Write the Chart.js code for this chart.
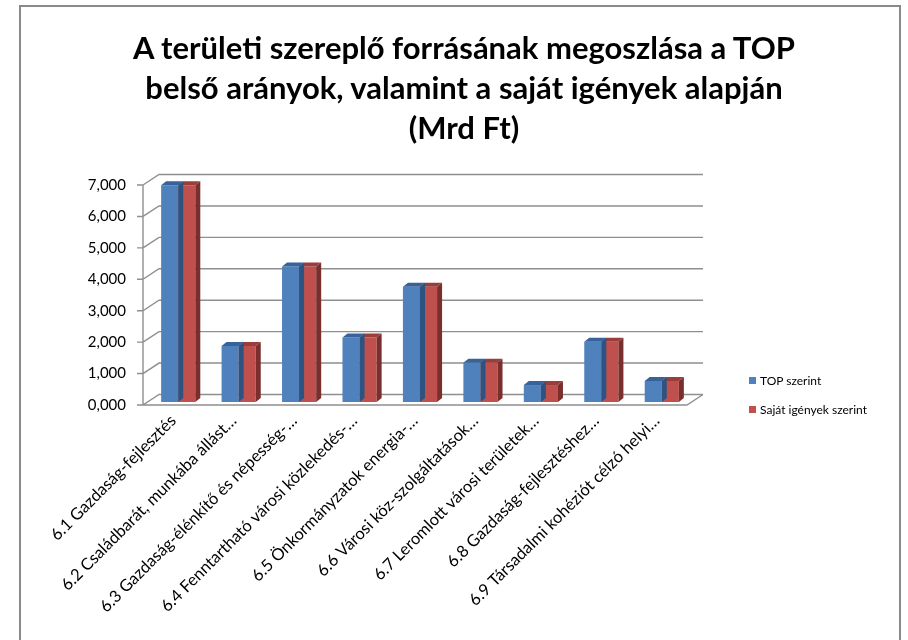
<!DOCTYPE html>
<html><head><meta charset="utf-8">
<script src="https://cdn.jsdelivr.net/npm/chart.js@4.4.1/dist/chart.umd.min.js"></script>
<style>
html,body{margin:0;padding:0;background:#fff;}
#wrap{position:relative;width:908px;height:640px;overflow:hidden;}
#frame{position:absolute;left:19px;top:5px;width:882px;height:700px;border:2px solid #8a8a8a;box-sizing:border-box;}
canvas{position:absolute;left:0;top:0;}
#title{position:absolute;left:20px;width:888px;top:27px;text-align:center;font-family:Lato,"Open Sans",sans-serif;font-weight:bold;font-size:31px;line-height:40px;color:#000;}
#legend{position:absolute;left:749px;top:372px;font-family:Lato,"Open Sans",sans-serif;font-size:12px;color:#000;}
#legend div{height:29px;line-height:18px;white-space:nowrap;}
#legend span{display:inline-block;width:7px;height:7px;margin-right:4px;vertical-align:1px;}
</style></head>
<body>
<div id="wrap">
<div id="frame"></div>
<canvas id="c" width="908" height="640"></canvas>
<div id="title"></div>
<div id="legend"></div>
</div>
<script>
const titleLines = ["A területi szereplő forrásának megoszlása a TOP", "belső arányok, valamint a saját igények alapján", "(Mrd Ft)"];
const categories = [
  "6.1 Gazdaság-fejlesztés",
  "6.2 Családbarát, munkába állást…",
  "6.3 Gazdaság-élénkítő és népesség-…",
  "6.4 Fenntartható városi közlekedés-…",
  "6.5 Önkormányzatok energia-…",
  "6.6 Városi köz-szolgáltatások…",
  "6.7 Leromlott városi területek…",
  "6.8 Gazdaság-fejlesztéshez…",
  "6.9 Társadalmi kohéziót célzó helyi…"
];
const seriesNames = ["TOP szerint", "Saját igények szerint"];
const topValues = [6.90, 1.78, 4.31, 2.05, 3.67, 1.25, 0.54, 1.92, 0.67];
const sajatValues = [6.90, 1.78, 4.31, 2.05, 3.67, 1.25, 0.54, 1.92, 0.67];
const yTickLabels = ["0,000","1,000","2,000","3,000","4,000","5,000","6,000","7,000"];

const colors = ["#4F81BD", "#C0504D"];
const topColors = ["#37629A", "#9A3D3B"];
const sideColors = ["#2F5380", "#7A2F2D"];

document.getElementById('title').innerHTML = titleLines.join('<br>');
document.getElementById('legend').innerHTML = seriesNames.map((n,i)=>'<div><span style="background:'+colors[i]+'"></span>'+n+'</div>').join('');

const DX = 16, DY = -10.5;     // wall depth
const BX = 5, BY = -3;         // bar position inside depth
const BDX = 5, BDY = -4;       // bar thickness

const depth3d = {
  id: 'depth3d',
  beforeDatasetsDraw(chart) {
    const ctx = chart.ctx, ys = chart.scales.y, ca = chart.chartArea;
    const L = ca.left, R = ca.right, B = ca.bottom;
    ctx.save();
    ctx.strokeStyle = '#8f8f8f';
    ctx.lineWidth = 1.4;
    ctx.beginPath();
    ys.ticks.forEach(t => {
      const y = ys.getPixelForValue(t.value);
      ctx.moveTo(L - 6, y); ctx.lineTo(L, y);
      ctx.moveTo(L, y); ctx.lineTo(L + DX, y + DY);
      ctx.lineTo(R + DX, y + DY);
    });
    ctx.moveTo(L, ys.getPixelForValue(ys.max)); ctx.lineTo(L, B);
    ctx.lineTo(R, B); ctx.lineTo(R + DX, B + DY);
    ctx.stroke();
    ctx.restore();
    ctx.save();
    ctx.translate(BX, BY);
  },
  afterDatasetDraw(chart, args) {
    const ctx = chart.ctx, i = args.index;
    args.meta.data.forEach(el => {
      const l = el.x - el.width / 2, r = el.x + el.width / 2, t = el.y, b = el.base;
      ctx.fillStyle = topColors[i];
      ctx.beginPath();
      ctx.moveTo(l, t); ctx.lineTo(r, t); ctx.lineTo(r + BDX, t + BDY); ctx.lineTo(l + BDX, t + BDY); ctx.closePath();
      ctx.fill();
      ctx.fillStyle = sideColors[i];
      ctx.beginPath();
      ctx.moveTo(r, t); ctx.lineTo(r + BDX, t + BDY); ctx.lineTo(r + BDX, b + BDY); ctx.lineTo(r, b); ctx.closePath();
      ctx.fill();
    });
  },
  afterDatasetsDraw(chart) { chart.ctx.restore(); }
};

new Chart(document.getElementById('c'), {
  type: 'bar',
  data: {
    labels: categories,
    datasets: [
      { label: seriesNames[0], data: topValues, backgroundColor: colors[0], borderWidth: 0, clip: false },
      { label: seriesNames[1], data: sajatValues, backgroundColor: colors[1], borderWidth: 0, clip: false }
    ]
  },
  options: {
    responsive: false,
    animation: false,
    devicePixelRatio: 1,
    layout: { padding: { left: 20, right: 221, top: 185, bottom: 0 } },
    plugins: { legend: { display: false }, title: { display: false }, tooltip: { enabled: false } },
    datasets: { bar: { barPercentage: 1, categoryPercentage: 0.565 } },
    scales: {
      x: {
        grid: { display: false, drawTicks: false },
        border: { display: false },
        ticks: { autoSkip: false, minRotation: 45, maxRotation: 45, padding: 6, color: '#000',
                 font: { family: 'Lato', size: 16.5 } },
        afterFit(s) { s.height = 235; }
      },
      y: {
        min: 0, max: 7,
        grid: { display: false, drawTicks: false },
        border: { display: false },
        ticks: { stepSize: 1, padding: 17, color: '#000', font: { family: 'Lato', size: 15 },
                 callback: (v) => yTickLabels[Math.round(v)] },
        afterFit(s) { s.width = 123; }
      }
    }
  },
  plugins: [depth3d]
});
</script>
</body></html>
